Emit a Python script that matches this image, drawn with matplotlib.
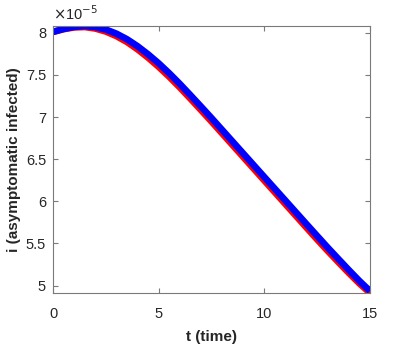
import matplotlib
matplotlib.use("Agg")
import matplotlib.pyplot as plt
from matplotlib.ticker import FuncFormatter

plt.rcParams["font.family"] = ["Liberation Sans", "DejaVu Sans"]

# time grid and the two solutions (values in units of 1e-5)
t = [0.0, 0.5, 1.0, 1.5, 2.0, 2.5, 3.0, 3.5, 4.0, 4.5, 5.0, 5.5, 6.0, 6.5, 7.0, 7.5,
     8.0, 8.5, 9.0, 9.5, 10.0, 10.5, 11.0, 11.5, 12.0, 12.5, 13.0, 13.5, 14.0, 14.5, 15.0]
i_blue = [8.010, 8.045, 8.070, 8.080, 8.068, 8.038, 7.989, 7.923, 7.840, 7.744, 7.637,
          7.519, 7.393, 7.260, 7.125, 6.988, 6.848, 6.708, 6.568, 6.428, 6.288, 6.148,
          6.008, 5.868, 5.728, 5.589, 5.451, 5.317, 5.184, 5.055, 4.935]
i_red = [8.010, 8.042, 8.063, 8.068, 8.050, 8.014, 7.960, 7.890, 7.803, 7.704, 7.595,
         7.477, 7.351, 7.218, 7.083, 6.946, 6.806, 6.666, 6.526, 6.386, 6.246, 6.106,
         5.966, 5.826, 5.686, 5.547, 5.411, 5.279, 5.149, 5.025, 4.912]
scale = 1e-5

fig = plt.figure(figsize=(4.09, 3.54), dpi=100)
ax = fig.add_axes([0.1296, 0.1723, 0.775, 0.7543])

ax.plot(t, [v * scale for v in i_red], color="#ff0000", lw=4.8, solid_capstyle="butt")
ax.plot(t, [v * scale for v in i_blue], color="#0000ff", lw=4.8, solid_capstyle="butt")

ax.set_xlim(0, 15)
ax.set_ylim(min(i_red) * scale, max(i_blue) * scale)
ax.set_xticks([0, 5, 10, 15])
ax.set_yticks([v * scale for v in [5, 5.5, 6, 6.5, 7, 7.5, 8]])
ax.yaxis.set_major_formatter(FuncFormatter(lambda v, p: "%g" % round(v / scale, 2)))

for s in ax.spines.values():
    s.set_color("#7a7a7a")
    s.set_linewidth(0.8)
ax.tick_params(direction="in", top=True, right=True, length=3.5, width=0.8,
               color="#7a7a7a", labelcolor="#262626", labelsize=10.5)
ax.tick_params(axis="x", pad=10)
ax.tick_params(axis="y", pad=5)

ax.text(0.0, 1.01, r"$\times$10$^{-5}$", transform=ax.transAxes, ha="left", va="bottom",
        fontsize=10.5, color="#262626")
ax.set_xlabel("t (time)", fontsize=11, fontweight="bold", color="#262626")
ax.set_ylabel("i (asymptomatic infected)", fontsize=11, fontweight="bold", color="#262626")
ax.xaxis.set_label_coords(0.5, -0.138)
ax.yaxis.set_label_coords(-0.1, 0.5)

fig.savefig("out.png", dpi=100)
